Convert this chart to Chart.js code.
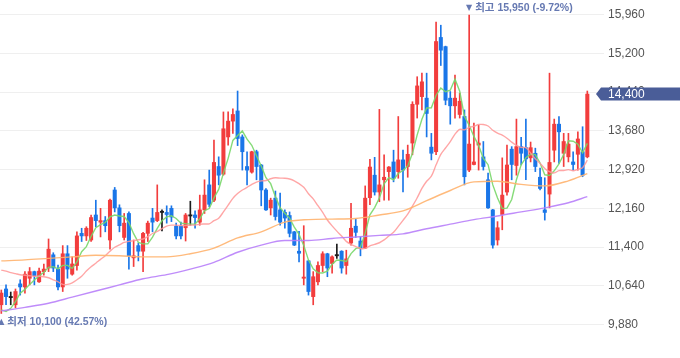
<!DOCTYPE html>
<html><head><meta charset="utf-8">
<script src="https://cdn.jsdelivr.net/npm/chart.js@4.4.1/dist/chart.umd.min.js"></script>
<style>html,body{margin:0;padding:0;background:#fff;}canvas{display:block;}</style>
</head><body>
<canvas id="c" width="680" height="358"></canvas>
<script>
// ---- data ----
const opens = [10270,10580,10410,10270,10680,10620,10790,10920,10720,10920,10990,11250,10970,10620,11270,10870,11040,11670,11620,11540,12030,11890,11920,11540,12520,12170,11590,12060,11190,11430,11320,11670,11970,11920,12080,12080,12160,11810,11810,11780,12010,12030,11890,12130,12620,12320,12980,12830,13560,13870,14070,13560,12980,12870,13270,13010,12520,12170,12360,12130,12080,12020,11700,11320,10790,11130,10430,10720,11040,11270,11080,11230,11320,11040,11480,11810,11520,11380,12370,12810,12480,12720,12880,13070,12880,13110,12980,13440,14200,14350,14320,13360,13270,15510,15330,14320,14170,14000,13960,12910,13020,13400,13170,12720,12130,11540,12040,12480,13320,13000,13370,13350,13150,13240,12770,12130,12440,13300,13810,13240,13170,13070,13220,13270,13170];
const highs = [10560,10660,10520,10580,10760,10920,11000,10930,10990,11070,11560,11290,11050,11430,11430,11210,11700,11770,11800,12030,12320,12160,12000,12340,12570,12230,12060,12090,11540,11480,11690,11910,12160,12620,12130,12210,12210,11870,11890,12060,12300,12110,12420,12720,12910,13500,13170,14050,14050,14110,14460,13600,13270,13280,13300,13020,12550,12360,12500,12460,12130,12090,11710,11710,11820,11140,10920,11110,11310,11280,11230,11460,11330,11340,12260,11950,11600,12600,13120,13160,14100,13210,12980,13300,13960,13300,13400,14250,14740,14810,14810,13630,15810,15750,15340,14450,14770,14420,14090,15950,13830,13790,13470,12850,12140,11900,13150,13400,13370,13910,13550,13910,13460,13340,12950,12760,14810,13910,13960,13630,13630,13270,13660,13760,14460];
const lows = [10100,10270,10270,10210,10460,10500,10660,10660,10710,10850,10920,10920,10560,10530,10790,10850,10950,11510,11530,11510,11800,11600,11700,11360,12090,11700,11540,10970,11020,11130,10920,11510,11700,11900,11720,11870,11900,11560,11560,11520,11830,11770,11830,12060,12190,12290,12620,12810,13400,13630,13390,12910,12620,12850,12720,12210,12120,12030,11930,11830,11770,11600,11430,11110,10660,10460,10270,10660,10920,10820,10890,11180,10890,10870,11440,11590,11230,11370,12230,12420,12290,12320,12320,12680,12750,12480,12770,13210,13930,14090,13560,13110,13210,14960,14190,13810,13930,13930,12620,12880,13010,12910,12910,12160,11380,11440,11740,12420,12720,12810,13010,12720,13070,12880,12520,11930,12170,13070,13040,12980,13070,12910,12910,12780,13150];
const closes = [10500,10430,10410,10530,10620,10870,10920,10840,10930,10970,11360,10990,10620,11270,10970,11070,11620,11620,11770,11980,11920,11920,11820,12320,12170,11820,11870,11230,11230,11320,11670,11870,11890,12080,12080,12040,11990,11620,11620,12030,12010,11980,12130,12420,12240,13060,12810,13720,13870,14000,13530,13270,12910,13270,12980,12520,12130,12320,12000,11890,11970,11670,11440,11280,10810,10530,10820,11040,11270,10990,11210,11230,10990,11170,11770,11690,11380,12360,12970,12480,12620,12770,12970,12750,13110,12910,13220,14200,14560,14640,14020,13240,15430,15260,14280,14170,14320,14260,12780,13420,13070,13440,12980,12170,11440,11780,12420,13010,13020,13370,13240,13130,13350,12980,12550,12080,13060,13810,13660,13470,13420,13020,13520,12810,14400];
// moving-average values before a full window exists
const ma5Lead  = [10170,10140,10200,10330];
const ma20Lead = [10950,10930,10900,10880,10860,10850,10840,10830,10830,10820,10800,10760,10720,10670,10670,10700,10760,10830,10930];
// long moving averages at these candle indices
const maSampleIdx = [0,5,10,15,20,25,30,35,40,45,50,55,60,65,70,75,80,85,90,95,100,105,110,115,120,124];
const ma60Read  = [11130,11150,11180,11210,11240,11230,11210,11210,11270,11380,11580,11700,11890,11940,11950,11960,12030,12110,12310,12510,12680,12690,12630,12600,12700,12840];
const ma120Read = [10150,10220,10300,10420,10540,10660,10780,10860,10970,11100,11300,11440,11530,11530,11570,11600,11630,11660,11760,11850,11940,12010,12090,12170,12270,12390];
const yTicks = [9880,10640,11400,12160,12920,13680,14440,15200,15960];
const highWord = '최고', lowWord = '최저';

// ---- derived ----
const idx = closes.map((_, i) => i);
function movingAvg(period, lead) {
  return closes.map((_, i) => {
    if (i < period - 1) return lead[i];
    let s = 0;
    for (let j = i - period + 1; j <= i; j++) s += closes[j];
    return s / period;
  });
}
const ma5 = movingAvg(5, ma5Lead);
const ma20 = movingAvg(20, ma20Lead);
const UP = '#f23d3d', DOWN = '#1a76e8', FLAT = '#1c1c1c';
const candleColors = idx.map(i => closes[i] > opens[i] ? UP : (closes[i] < opens[i] ? DOWN : FLAT));
const fmt = v => Math.round(v).toLocaleString('en-US');
const FONT = "'Liberation Sans', 'Noto Sans CJK KR', sans-serif";

const overlay = {
  id: 'overlay',
  afterDatasetsDraw(chart) {
    const {ctx, scales: {x, y}} = chart;
    const last = closes[closes.length - 1];
    let hi = 0, lo = 0;
    highs.forEach((v, i) => { if (v > highs[hi]) hi = i; });
    lows.forEach((v, i) => { if (v < lows[lo]) lo = i; });
    const hiPct = ((last / highs[hi] - 1) * 100).toFixed(2);
    const loPct = ((last / lows[lo] - 1) * 100).toFixed(2);
    ctx.save();
    ctx.fillStyle = '#6679b2';
    ctx.textBaseline = 'middle';
    const hx = x.getPixelForValue(hi), hy = y.getPixelForValue(highs[hi]) - 7;
    ctx.textAlign = 'center';
    ctx.font = "8px 'DejaVu Sans'";
    ctx.fillText('▼', hx, hy);
    ctx.textAlign = 'left';
    ctx.font = 'bold 10.5px ' + FONT;
    ctx.fillText(highWord + ' ' + fmt(highs[hi]) + ' (' + hiPct + '%)', hx + 6, hy);
    const lx = x.getPixelForValue(lo), ly = y.getPixelForValue(lows[lo]) + 8.5;
    ctx.textAlign = 'center';
    ctx.font = "8px 'DejaVu Sans'";
    ctx.fillText('▲', lx, ly);
    ctx.textAlign = 'left';
    ctx.font = 'bold 10.5px ' + FONT;
    ctx.fillText(lowWord + ' ' + fmt(lows[lo]) + ' (' + loPct + '%)', lx + 6, ly);
    ctx.restore();
  },
  afterDraw(chart) {
    const {ctx, chartArea, scales: {y}} = chart;
    const last = closes[closes.length - 1];
    const py = y.getPixelForValue(last);
    const r = chartArea.right, W = chart.width;
    ctx.save();
    ctx.fillStyle = '#4a5d98';
    ctx.beginPath();
    ctx.moveTo(r - 8, py);
    ctx.lineTo(r - 3, py - 6.5);
    ctx.lineTo(W, py - 6.5);
    ctx.lineTo(W, py + 6.5);
    ctx.lineTo(r - 3, py + 6.5);
    ctx.closePath();
    ctx.fill();
    ctx.fillStyle = '#ffffff';
    ctx.font = '12px ' + FONT;
    ctx.textBaseline = 'middle';
    ctx.textAlign = 'left';
    ctx.fillText(fmt(last), r + 4, py + 0.5);
    ctx.restore();
  }
};

const lineBase = {type: 'line', pointRadius: 0, borderWidth: 1.4, fill: false, order: 0};

new Chart(document.getElementById('c'), {
  type: 'bar',
  data: {
    datasets: [
      {label: 'wick', data: idx.map(i => ({x: i, y: [lows[i], highs[i]]})), backgroundColor: candleColors, barThickness: 1, grouped: false, order: 2},
      {label: 'body', data: idx.map(i => ({x: i, y: [opens[i], closes[i]]})), backgroundColor: candleColors, barThickness: 3.4, minBarLength: 1.2, grouped: false, order: 1},
      Object.assign({label: 'MA120', data: maSampleIdx.map((k, j) => ({x: k, y: ma120Read[j]})), borderColor: 'rgba(184,128,250,0.9)', cubicInterpolationMode: 'monotone'}, lineBase),
      Object.assign({label: 'MA60', data: maSampleIdx.map((k, j) => ({x: k, y: ma60Read[j]})), borderColor: 'rgba(255,178,110,0.9)', cubicInterpolationMode: 'monotone'}, lineBase),
      Object.assign({label: 'MA20', data: idx.map(i => ({x: i, y: ma20[i]})), borderColor: 'rgba(255,150,150,0.85)', tension: 0.3}, lineBase),
      Object.assign({label: 'MA5', data: idx.map(i => ({x: i, y: ma5[i]})), borderColor: 'rgba(120,215,105,0.9)', tension: 0}, lineBase)
    ]
  },
  options: {
    responsive: false,
    animation: false,
    devicePixelRatio: 1,
    layout: {padding: 0},
    plugins: {legend: {display: false}, tooltip: {enabled: false}},
    scales: {
      x: {type: 'linear', display: false, offset: false, min: -0.275, max: 127.53},
      y: {
        position: 'right',
        min: 9227, max: 16244,
        afterBuildTicks: s => { s.ticks = yTicks.map(v => ({value: v})); },
        afterFit: s => { s.width = 76; s.paddingTop = 0; s.paddingBottom = 0; },
        grid: {color: '#efefef', drawTicks: false},
        border: {display: false},
        ticks: {padding: 4, color: '#555555', font: {size: 12, family: FONT}, callback: v => fmt(v)}
      }
    }
  },
  plugins: [overlay]
});
</script>
</body></html>
